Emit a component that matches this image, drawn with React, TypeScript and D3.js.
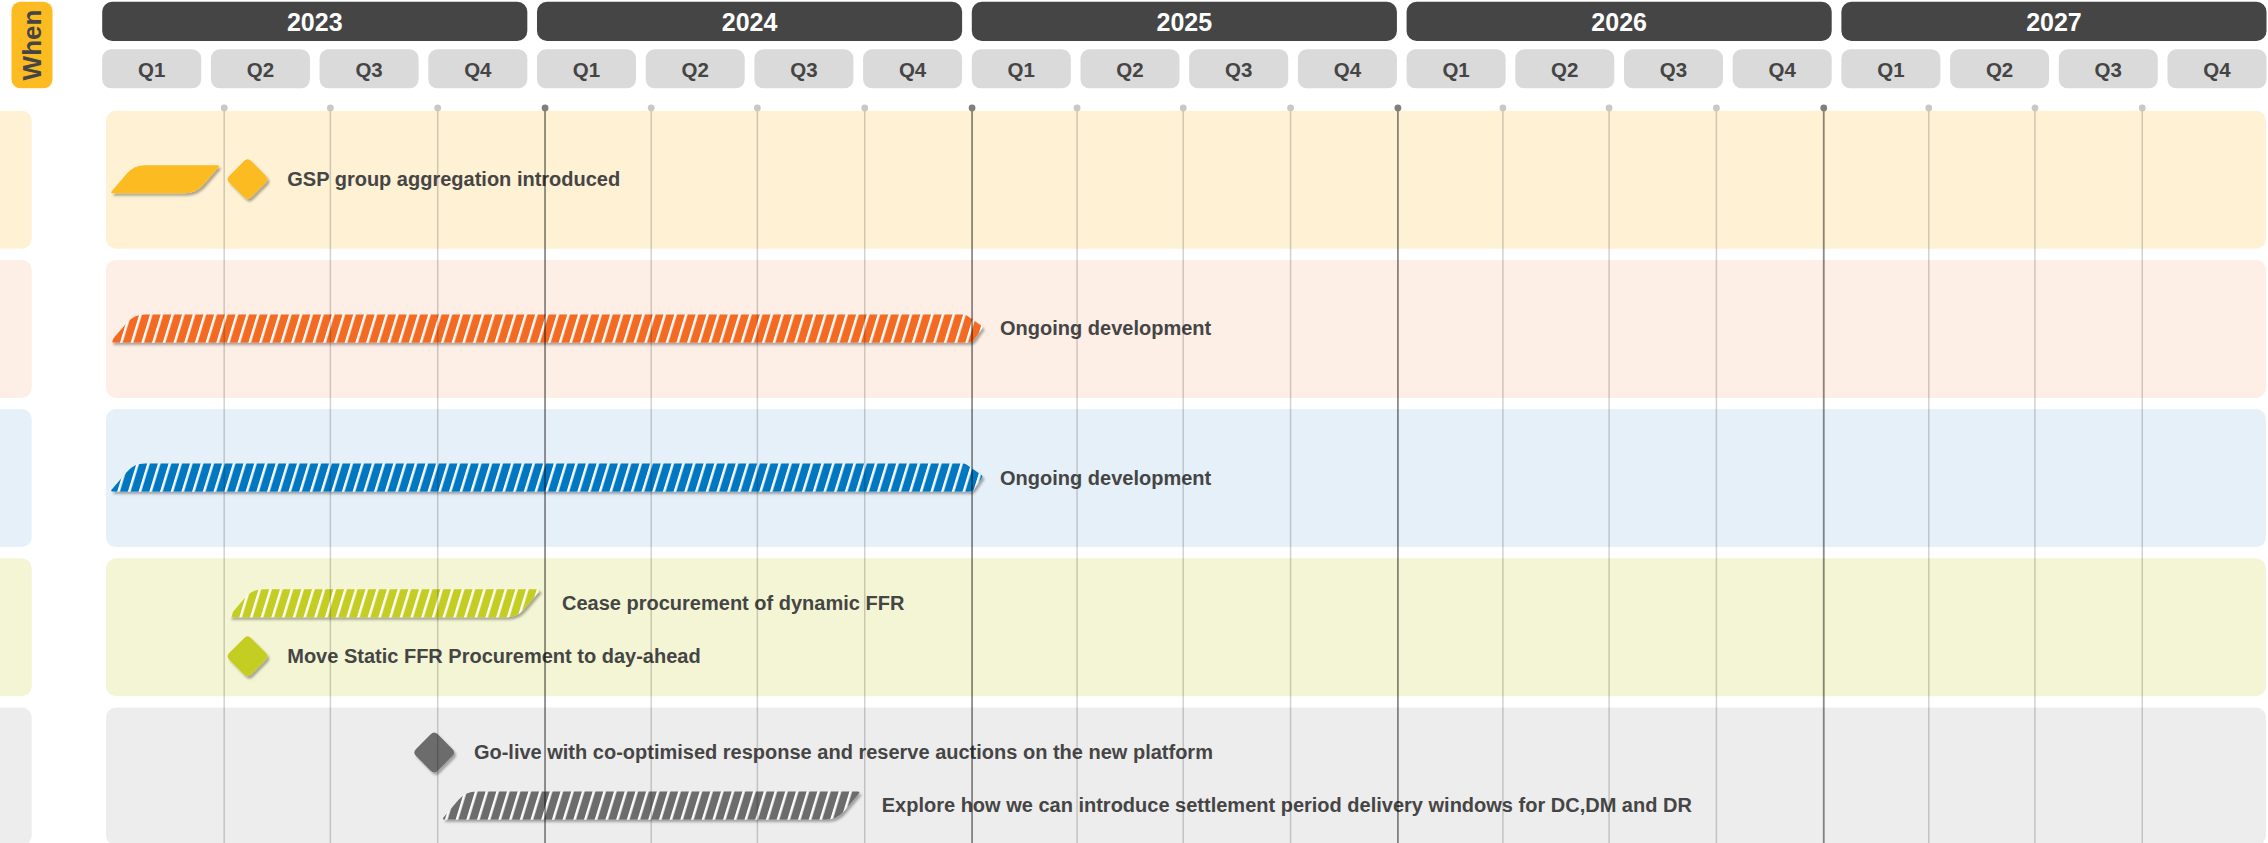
import React from 'react';
import * as d3 from 'd3';

const W = 2268;
const H = 843;

// Timeline header
const years = [2023, 2024, 2025, 2026, 2027];
const quarterLabels = ['Q1', 'Q2', 'Q3', 'Q4'];
const sideTitle = 'When';

// Swimlanes
const lanes = ['gsp', 'orange', 'blue', 'ffr', 'platform'];
const laneSlots = [1, 1, 1, 2, 2];
const laneFill = ['#FEF1D4', '#FDEEE6', '#E6F0F9', '#F3F5D4', '#EDEDED'];
const markFill = ['#FDBB22', '#F36A22', '#0077C1', '#C4CD22', '#6C6C6C'];

// Activity bars (start before the timeline = ongoing)
const barLane = [0, 1, 2, 3, 4];
const barSlot = [0, 0, 0, 0, 1];
const barStart = ['2022-10-01', '2022-10-01', '2022-10-01', '2023-04-01', '2023-10-01'];
const barEnd = ['2023-04-01', '2025-01-01', '2025-01-01', '2024-01-01', '2024-10-01'];
const barKind = ['solid', 'arrow', 'arrow', 'hatched', 'hatched'];
const barLabel = [
  '',
  'Ongoing development',
  'Ongoing development',
  'Cease procurement of dynamic FFR',
  'Explore how we can introduce settlement period delivery windows for DC,DM and DR',
];

// Milestones
const msLane = [0, 3, 4];
const msSlot = [0, 1, 0];
const msDate = ['2023-04-21', '2023-04-21', '2023-09-28'];
const msLabel = [
  'GSP group aggregation introduced',
  'Move Static FFR Procurement to day-ahead',
  'Go-live with co-optimised response and reserve auctions on the new platform',
];

const FONT = '"Liberation Sans", Arial, Helvetica, sans-serif';
const TEXT = '#454545';

const parse = d3.timeParse('%Y-%m-%d');

function roundedPath(pts: [number, number][], radii: number[]): string {
  const p = d3.path();
  const n = pts.length;
  for (let i = 0; i < n; i++) {
    const prev = pts[(i - 1 + n) % n];
    const cur = pts[i];
    const next = pts[(i + 1) % n];
    const d1 = Math.hypot(cur[0] - prev[0], cur[1] - prev[1]);
    const d2 = Math.hypot(next[0] - cur[0], next[1] - cur[1]);
    const r1 = Math.min(radii[i], d1 / 2);
    const r2 = Math.min(radii[i], d2 / 2);
    const ax = cur[0] + ((prev[0] - cur[0]) * r1) / d1;
    const ay = cur[1] + ((prev[1] - cur[1]) * r1) / d1;
    const bx = cur[0] + ((next[0] - cur[0]) * r2) / d2;
    const by = cur[1] + ((next[1] - cur[1]) * r2) / d2;
    if (i === 0) p.moveTo(ax, ay);
    else p.lineTo(ax, ay);
    p.quadraticCurveTo(cur[0], cur[1], bx, by);
  }
  p.closePath();
  return p.toString();
}

export default function App() {
  // time axis for the grid and the marks
  const x = d3
    .scaleTime()
    .domain([parse('2023-01-01')!, parse('2028-01-01')!])
    .range([119.2, 2249.6]);

  // header quarter cells
  const quarterKeys = years.flatMap((y) => quarterLabels.map((q) => `${y}-${q}`));
  const qBand = d3.scaleBand<string>().domain(quarterKeys).range([102.2, 2266.5]).paddingInner(0.089).paddingOuter(0);

  // swimlane rows
  const laneBand = d3.scaleBand<string>().domain(lanes).range([110.7, 845.5]).paddingInner(0.075).paddingOuter(0);

  const bandX0 = 106;
  const bandX1 = 2266;
  const barH = 28;
  const slant = 24;
  const half = 21.7;

  const slotY = (lane: number, slot: number) => {
    const top = laneBand(lanes[lane])!;
    return laneSlots[lane] === 1 ? top + 68.5 : top + 45 + slot * 53;
  };

  const gridDates = d3.timeMonth.every(3)!.range(parse('2023-04-01')!, parse('2028-01-01')!);
  const dotY = 108;

  return (
    <svg width={W} height={H} style={{ position: 'absolute', left: 0, top: 0 }} fontFamily={FONT}>
      <defs>
        <filter id="shadow" x="-10%" y="-40%" width="130%" height="200%">
          <feDropShadow dx="2" dy="2.5" stdDeviation="1.2" floodColor="#000" floodOpacity="0.32" />
        </filter>
        {markFill.map((c, i) => (
          <pattern
            key={i}
            id={`hatch-${i}`}
            patternUnits="userSpaceOnUse"
            width={10.7}
            height={40}
            patternTransform="skewX(-17)"
          >
            <rect width={10.7} height={40} fill={c} />
            <rect x={0} width={2.6} height={40} fill="#fff" />
          </pattern>
        ))}
      </defs>

      {/* side title */}
      <rect x={11.5} y={1.7} width={41} height={86.6} rx={9} fill="#FDBB22" />
      <text
        transform={`translate(${32},${45}) rotate(-90)`}
        textAnchor="middle"
        dominantBaseline="central"
        fontSize={26}
        fontWeight={700}
        fill={TEXT}
      >
        {sideTitle}
      </text>

      {/* year header */}
      {years.map((y) => {
        const x0 = qBand(`${y}-Q1`)!;
        const x1 = qBand(`${y}-Q4`)! + qBand.bandwidth();
        return (
          <g key={y}>
            <rect x={x0} y={1.7} width={x1 - x0} height={39.3} rx={10} fill="#454545" />
            <text x={(x0 + x1) / 2} y={21.5} textAnchor="middle" dominantBaseline="central" fontSize={25} fontWeight={700} fill="#fff">
              {y}
            </text>
          </g>
        );
      })}

      {/* quarter header */}
      {quarterKeys.map((k) => {
        const x0 = qBand(k)!;
        return (
          <g key={k}>
            <rect x={x0} y={49.3} width={qBand.bandwidth()} height={39} rx={9} fill="#DADADA" />
            <text x={x0 + qBand.bandwidth() / 2} y={69.5} textAnchor="middle" dominantBaseline="central" fontSize={20.5} fontWeight={700} fill={TEXT}>
              {k.split('-')[1]}
            </text>
          </g>
        );
      })}

      {/* swimlane backgrounds */}
      {lanes.map((l, i) => (
        <g key={l}>
          <rect x={-12} y={laneBand(l)!} width={43.7} height={laneBand.bandwidth()} rx={10} fill={laneFill[i]} />
          <rect x={bandX0} y={laneBand(l)!} width={bandX1 - bandX0} height={laneBand.bandwidth()} rx={10} fill={laneFill[i]} />
        </g>
      ))}

      {/* activity bars */}
      {barLane.map((lane, i) => {
        const cy = slotY(lane, barSlot[i]);
        const yt = cy - barH / 2;
        const yb = cy + barH / 2;
        const kind = barKind[i];
        const x0 = Math.max(x(parse(barStart[i])!) + 4, bandX0 + 4);
        let d: string;
        let labelX: number;
        if (kind === 'arrow') {
          const x1 = x(parse(barEnd[i])!);
          d = roundedPath(
            [
              [x0, yb],
              [x0 + slant, yt],
              [x1 - 7, yt],
              [x1 + 11, yt + barH * 0.45],
              [x1, yb],
            ],
            [3, 11, 2, 2, 3]
          );
          labelX = x1 + 28;
        } else {
          const x1 = x(parse(barEnd[i])!) - 4;
          d = roundedPath(
            [
              [x0, yb],
              [x0 + slant, yt],
              [x1, yt],
              [x1 - slant, yb],
            ],
            [3, 11, 3, 11]
          );
          labelX = x1 + 21;
        }
        const fill = kind === 'solid' ? markFill[lane] : `url(#hatch-${lane})`;
        return (
          <g key={`bar-${i}`}>
            <path d={d} fill={fill} filter="url(#shadow)" />
            {barLabel[i] && (
              <text x={labelX} y={cy + 7} fontSize={20} fontWeight={700} fill={TEXT}>
                {barLabel[i]}
              </text>
            )}
          </g>
        );
      })}

      {/* milestones */}
      {msLane.map((lane, i) => {
        const cy = slotY(lane, msSlot[i]);
        const cx = x(parse(msDate[i])!);
        const d = roundedPath(
          [
            [cx, cy - half],
            [cx + half, cy],
            [cx, cy + half],
            [cx - half, cy],
          ],
          [5, 5, 5, 5]
        );
        return (
          <g key={`ms-${i}`}>
            <path d={d} fill={markFill[lane]} filter="url(#shadow)" />
            <text x={cx + half + 18} y={cy + 7} fontSize={20} fontWeight={700} fill={TEXT}>
              {msLabel[i]}
            </text>
          </g>
        );
      })}

      {/* quarter / year grid drawn over the lanes */}
      {gridDates.map((dt, i) => {
        const isYear = dt.getMonth() === 0;
        const gx = x(dt);
        return (
          <g key={i}>
            <line
              x1={gx}
              x2={gx}
              y1={dotY}
              y2={H}
              stroke="#000"
              strokeOpacity={isYear ? 0.46 : 0.18}
              strokeWidth={isYear ? 1.8 : 1.5}
            />
            <circle cx={gx} cy={dotY} r={3.4} fill={isYear ? '#7F7F7F' : '#C8C8C8'} />
          </g>
        );
      })}
    </svg>
  );
}
